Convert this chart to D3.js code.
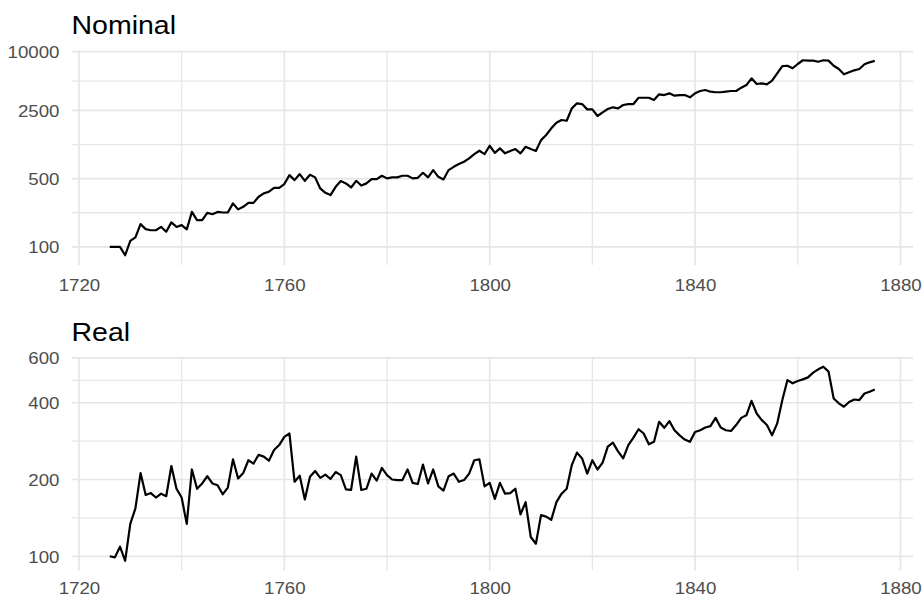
<!DOCTYPE html>
<html>
<head>
<meta charset="utf-8">
<script src="https://cdn.jsdelivr.net/npm/d3@7"></script>
<style>
  html, body { margin: 0; padding: 0; background: #ffffff; }
  svg { display: block; }
</style>
</head>
<body>
<svg id="chart" width="923" height="598"></svg>
<script>
// Annual index series, 1726 = 100
const firstYear = 1726;
const lastYear = 1875;

const nominal = [
  100, 100, 100, 82, 115, 125, 171, 152, 148, 148,          // 1726-1735
  160, 143, 178, 160, 167, 151, 228, 188, 188, 223,         // 1736-1745
  216, 228, 225, 225, 279, 242, 257, 282, 282, 326,         // 1746-1755
  353, 367, 403, 403, 440, 543, 483, 557, 475, 547,         // 1756-1765
  515, 397, 358, 339, 412, 472, 447, 406, 475, 425,         // 1766-1775
  447, 494, 494, 535, 503, 515, 515, 535, 535, 503,         // 1776-1785
  510, 574, 515, 612, 522, 491, 612, 661, 705, 745,         // 1786-1795
  807, 893, 966, 893, 1086, 920, 1021, 908, 959, 1005,      // 1796-1805
  908, 1061, 1005, 959, 1241, 1399, 1638, 1871, 1995, 1960, // 1806-1815
  2626, 2956, 2906, 2563, 2563, 2193, 2390, 2583, 2690, 2626, // 1816-1825
  2839, 2906, 2906, 3372, 3372, 3372, 3200, 3656, 3594, 3742, // 1826-1835
  3539, 3594, 3594, 3404, 3742, 3955, 4047, 3891, 3838, 3838, // 1836-1845
  3891, 3955, 3955, 4276, 4550, 5333, 4663, 4740, 4630, 5045, // 1846-1855
  6000, 7128, 7180, 6760, 7480, 8170, 8100, 8100, 7890, 8170, // 1856-1865
  8100, 7180, 6650, 5860, 6150, 6440, 6650, 7430, 7780, 8040  // 1866-1875
];

const real = [
  100, 99, 109, 96, 134, 154, 212, 174, 177, 170,           // 1726-1735
  176, 172, 226, 184, 170, 134, 219, 184, 193, 206,         // 1736-1745
  193, 190, 175, 186, 240, 202, 212, 238, 231, 250,         // 1746-1755
  246, 237, 261, 273, 294, 303, 196, 207, 167, 205,         // 1756-1765
  216, 203, 209, 201, 214, 208, 183, 182, 246, 182,         // 1766-1775
  184, 211, 198, 222, 208, 200, 199, 199, 219, 194,         // 1776-1785
  192, 229, 193, 219, 188, 181, 206, 211, 196, 199,         // 1786-1795
  211, 238, 240, 188, 194, 168, 194, 176, 177, 184,         // 1796-1805
  146, 163, 119, 112, 145, 143, 139, 163, 176, 184,         // 1806-1815
  228, 255, 242, 211, 238, 219, 233, 269, 279, 258,         // 1816-1825
  242, 273, 292, 315, 303, 275, 281, 337, 319, 339,         // 1826-1835
  312, 298, 287, 281, 307, 312, 320, 324, 349, 320,         // 1836-1845
  312, 310, 327, 349, 357, 407, 363, 342, 327, 298,         // 1846-1855
  332, 410, 491, 477, 487, 494, 503, 525, 541, 554,         // 1856-1865
  530, 416, 398, 386, 403, 412, 410, 435, 442, 451          // 1866-1875
];

const yearTicks = [1720, 1760, 1800, 1840, 1880];
const yearMinor = [1740, 1780, 1820, 1860];
const nominalTicks = [100, 500, 2500, 10000];
const realTicks = [100, 200, 400, 600];

const years = d3.range(firstYear, lastYear + 1);

// ---- layout ----
const svg = d3.select("#chart");
const left = 71.5, right = 913;
const panels = [
  { title: "Nominal", values: nominal, ticks: nominalTicks, top: 50.5, bottom: 265,
    titleY: 33.5, xLabelOffset: 14.5 },
  { title: "Real", values: real, ticks: realTicks, top: 357, bottom: 570.5,
    titleY: 340.5, xLabelOffset: 11.5 }
];

const textStretch = 1.14;       // horizontal glyph stretch
const tickFont = 16.4;
const fontFamily = "'Liberation Sans', Arial, Helvetica, sans-serif";
const gridColor = "#e6e6e6";

// x scale with 5% padding on each side of the data range
const xPad = (lastYear - firstYear) * 0.05;
const x = d3.scaleLinear()
  .domain([firstYear - xPad, lastYear + xPad])
  .range([left, right]);

// minor breaks sit halfway between major breaks in log space
function logMidpoints(ticks) {
  const out = [];
  for (let i = 0; i < ticks.length - 1; i++) out.push(Math.sqrt(ticks[i] * ticks[i + 1]));
  return out;
}

panels.forEach(p => {
  const lo = Math.log10(d3.min(p.values));
  const hi = Math.log10(d3.max(p.values));
  const pad = (hi - lo) * 0.05;
  const y = d3.scaleLog()
    .domain([Math.pow(10, lo - pad), Math.pow(10, hi + pad)])
    .range([p.bottom, p.top]);

  const g = svg.append("g");

  // grid: minor then major
  const grid = g.append("g").attr("stroke", gridColor).attr("fill", "none");
  grid.selectAll("line.ymin").data(logMidpoints(p.ticks)).join("line")
    .attr("x1", left).attr("x2", right)
    .attr("y1", d => y(d)).attr("y2", d => y(d))
    .attr("stroke-width", 1.3);
  grid.selectAll("line.xmin").data(yearMinor).join("line")
    .attr("x1", d => x(d)).attr("x2", d => x(d))
    .attr("y1", p.top).attr("y2", p.bottom)
    .attr("stroke-width", 1.3);
  grid.selectAll("line.ymaj").data(p.ticks).join("line")
    .attr("x1", left).attr("x2", right)
    .attr("y1", d => y(d)).attr("y2", d => y(d))
    .attr("stroke-width", 1.7);
  grid.selectAll("line.xmaj").data(yearTicks).join("line")
    .attr("x1", d => x(d)).attr("x2", d => x(d))
    .attr("y1", p.top).attr("y2", p.bottom)
    .attr("stroke-width", 1.7);

  // y axis labels
  const yAxis = g.append("g")
    .attr("transform", `translate(${left},0)`)
    .call(d3.axisLeft(y).tickValues(p.ticks).tickFormat(d3.format("d")).tickSize(0).tickPadding(0));
  yAxis.select(".domain").remove();
  yAxis.attr("font-family", fontFamily).attr("font-size", tickFont);
  yAxis.selectAll("text")
    .attr("fill", "#4d4d4d")
    .attr("x", -12 / textStretch)
    .attr("dy", "0.35em")
    .attr("transform", `scale(${textStretch},1)`);

  // x axis labels
  const xAxis = g.append("g")
    .attr("transform", `translate(0,${p.bottom})`)
    .call(d3.axisBottom(x).tickValues(yearTicks).tickFormat(d3.format("d")).tickSize(0).tickPadding(p.xLabelOffset));
  xAxis.select(".domain").remove();
  xAxis.attr("font-family", fontFamily).attr("font-size", tickFont);
  xAxis.selectAll("text")
    .attr("fill", "#4d4d4d")
    .attr("transform", `scale(${textStretch},1)`);

  // series line
  const line = d3.line()
    .x((d, i) => x(years[i]))
    .y(d => y(d));
  g.append("path")
    .datum(p.values)
    .attr("d", line)
    .attr("fill", "none")
    .attr("stroke", "#000000")
    .attr("stroke-width", 2.2)
    .attr("stroke-linejoin", "round")
    .attr("stroke-linecap", "butt");

  // panel title
  g.append("text")
    .attr("transform", `translate(${left},${p.titleY}) scale(${textStretch},1)`)
    .attr("font-family", fontFamily)
    .attr("font-size", 25)
    .attr("fill", "#000000")
    .text(p.title);
});
</script>
</body>
</html>
